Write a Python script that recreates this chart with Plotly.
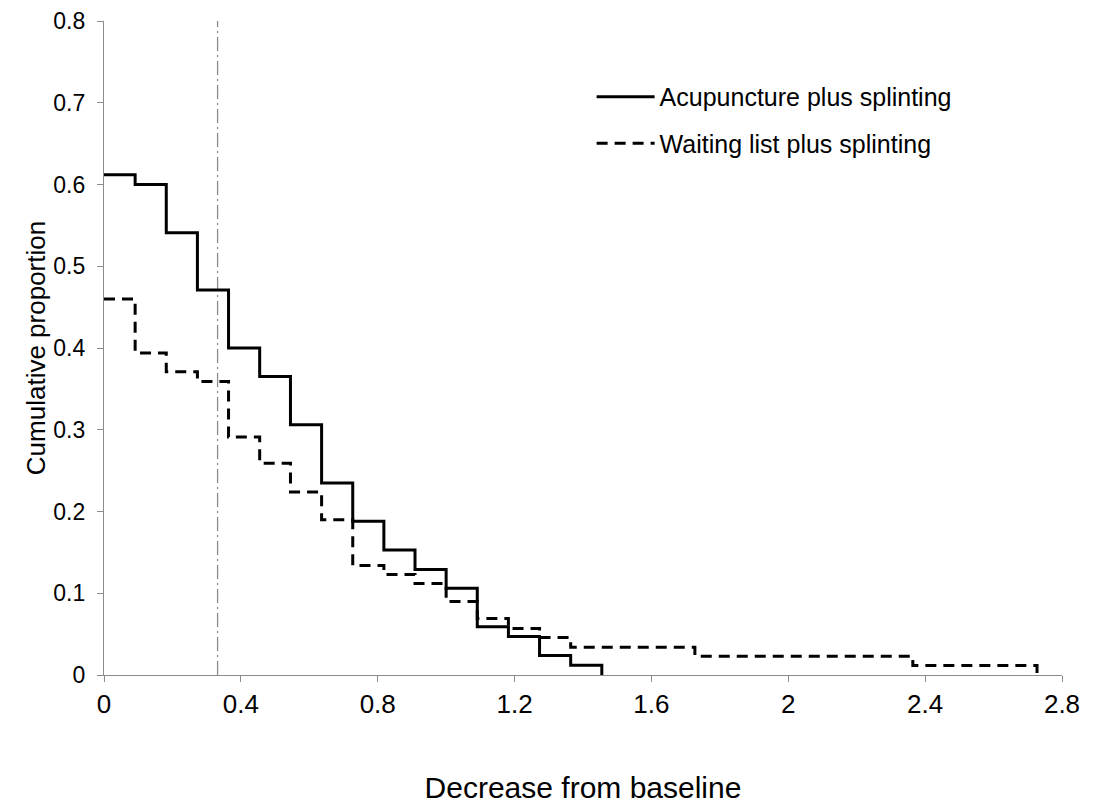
import plotly.graph_objects as go

# Step positions (decrease from baseline) and cumulative proportions
acu_x = [0, 0.091, 0.182, 0.273, 0.364, 0.455, 0.545, 0.636, 0.727, 0.818,
         0.909, 1.0, 1.091, 1.182, 1.273, 1.364, 1.455]
acu_y = [0.612, 0.600, 0.541, 0.471, 0.400, 0.365, 0.306, 0.235, 0.188, 0.153,
         0.129, 0.106, 0.059, 0.047, 0.024, 0.012, 0.0]

wait_x = [0, 0.091, 0.182, 0.273, 0.364, 0.455, 0.545, 0.636, 0.727, 0.818,
          0.909, 1.0, 1.091, 1.182, 1.273, 1.364, 1.727, 2.364, 2.727]
wait_y = [0.460, 0.394, 0.371, 0.359, 0.291, 0.259, 0.224, 0.190, 0.134, 0.123,
          0.112, 0.090, 0.069, 0.057, 0.046, 0.034, 0.023, 0.0115, 0.0]

mcid_x = 0.332

x_ticks = [0, 0.4, 0.8, 1.2, 1.6, 2.0, 2.4, 2.8]
x_tick_labels = ["0", "0.4", "0.8", "1.2", "1.6", "2", "2.4", "2.8"]
y_ticks = [0, 0.1, 0.2, 0.3, 0.4, 0.5, 0.6, 0.7, 0.8]
y_tick_labels = ["0", "0.1", "0.2", "0.3", "0.4", "0.5", "0.6", "0.7", "0.8"]

FONT = "Liberation Sans, Arial, sans-serif"
AXIS_GREY = "#8c8c8c"

fig = go.Figure()

fig.add_trace(go.Scatter(
    x=[mcid_x, mcid_x], y=[0, 0.8], mode="lines",
    line=dict(color=AXIS_GREY, width=1.3, dash="14px,4px,2px,4px"),
    showlegend=False, hoverinfo="skip"))

fig.add_trace(go.Scatter(
    x=acu_x, y=acu_y, mode="lines", line_shape="hv",
    line=dict(color="black", width=3),
    name="Acupuncture plus splinting", legendgroup="a"))

fig.add_trace(go.Scatter(
    x=wait_x, y=wait_y, mode="lines", line_shape="hv",
    line=dict(color="black", width=3, dash="11px,7px"),
    name="Waiting list plus splinting", legendgroup="b"))

fig.update_layout(
    width=1105, height=811,
    margin=dict(l=96, r=51, t=13, b=144),
    plot_bgcolor="white", paper_bgcolor="white",
    font=dict(family=FONT, color="black"),
    showlegend=True,
    legend=dict(x=0.509, y=0.919, xanchor="left", yanchor="top",
                font=dict(size=25, family=FONT), itemwidth=58,
                tracegroupgap=11, bgcolor="rgba(0,0,0,0)"),
    xaxis=dict(range=[0, 2.8], tickvals=x_ticks, ticktext=x_tick_labels,
               showgrid=False, zeroline=False, showline=True,
               linecolor=AXIS_GREY, linewidth=1.3,
               ticks="outside", ticklen=6, tickcolor=AXIS_GREY,
               ticklabelstandoff=0, automargin=False,
               tickfont=dict(size=26, family=FONT),
               title=dict(text="Decrease from baseline", standoff=58,
                          font=dict(size=30, family=FONT))),
    yaxis=dict(range=[0, 0.8], tickvals=y_ticks, ticktext=y_tick_labels,
               showgrid=False, zeroline=False, showline=True,
               linecolor=AXIS_GREY, linewidth=1.3,
               ticks="outside", ticklen=6, tickcolor=AXIS_GREY,
               ticklabelstandoff=7, automargin=False,
               tickfont=dict(size=23, family=FONT),
               title=dict(text="Cumulative proportion", standoff=0,
                          font=dict(size=26, family=FONT))),
)

fig.write_html("out.html")
